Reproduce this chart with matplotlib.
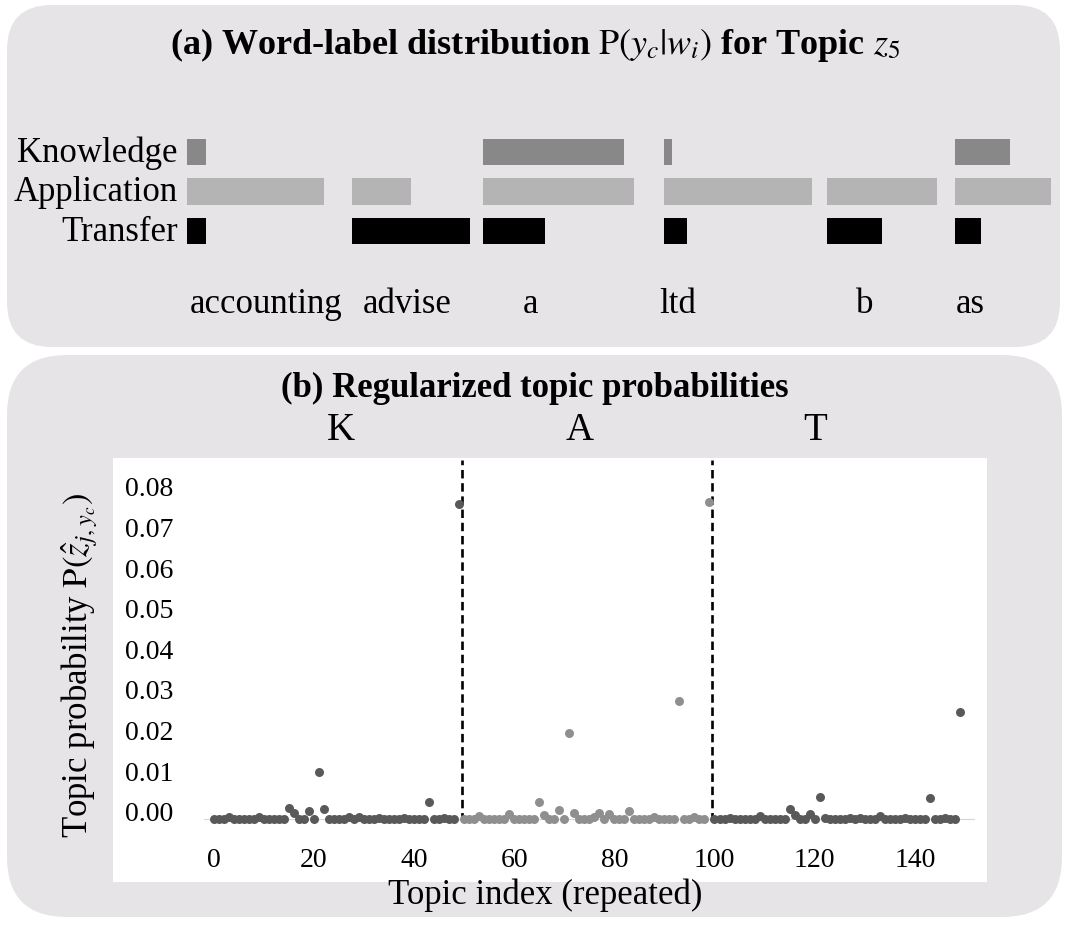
import numpy as np
import matplotlib.pyplot as plt
from matplotlib.patches import FancyBboxPatch, Rectangle
from matplotlib.transforms import ScaledTranslation, blended_transform_factory

plt.rcParams['font.family'] = ['Liberation Serif', 'DejaVu Serif']
plt.rcParams['mathtext.fontset'] = 'stix'

# ---- panel (a): word-label distribution P(y_c | w_i) for topic z5 ----
words = ['accounting', 'advise', 'a', 'ltd', 'b', 'as']
labels = ['Knowledge', 'Application', 'Transfer']
p_knowledge = [0.108, 0.0, 0.801, 0.044, 0.0, 0.3125]
p_application = [0.782, 0.335, 0.858, 0.839, 0.627, 0.544]
p_transfer = [0.108, 0.672, 0.351, 0.129, 0.316, 0.148]

# ---- panel (b): regularized topic probabilities, 50 topics per label ----
prob_k = [0, 0, 0, 0.0005, 0, 0, 0, 0, 0, 0.0005,
          0, 0, 0, 0, 0, 0.0028, 0.0016, 0.0002, 0, 0.0020,
          0, 0.0117, 0.0026, 0, 0, 0, 0, 0.0005, 0, 0.0005,
          0, 0, 0, 0.0004, 0, 0, 0, 0, 0.0004, 0,
          0, 0, 0, 0.0043, 0, 0, 0.0004, 0, 0, 0.0777]
prob_a = [0, 0, 0, 0.0008, 0, 0, 0, 0, 0, 0.0012,
          0, 0, 0, 0, 0, 0.0042, 0.0010, 0.0002, 0, 0.0023,
          0.0002, 0.0213, 0.0016, 0, 0, 0, 0.0006, 0.0015, 0, 0.0012,
          0, 0, 0, 0.0020, 0, 0, 0, 0, 0.0006, 0,
          0, 0, 0, 0.0292, 0, 0, 0.0005, 0, 0, 0.0781]
prob_t = [0, 0, 0, 0.0003, 0, 0, 0, 0, 0, 0.0008,
          0, 0, 0, 0, 0, 0.0025, 0.0011, 0.0002, 0, 0.0012,
          0, 0.0056, 0.0003, 0, 0, 0, 0, 0.0003, 0, 0.0003,
          0, 0, 0, 0.0008, 0, 0, 0, 0, 0.0003, 0,
          0, 0, 0, 0.0053, 0, 0, 0.0003, 0, 0, 0.0265]
groups = ['K', 'A', 'T']

W, H = 1065, 925
PANEL = '#e6e4e6'


def fx(px):
    return px / W


def fy(py):
    return 1 - py / H


fig = plt.figure(figsize=(W / 100, H / 100), dpi=100)
fig.patch.set_facecolor('white')

# rounded grey backgrounds for the two panels
for x0, y0, x1, y1, r in [(7, 5, 1060, 347, 0.45), (7, 355, 1062, 917, 0.6)]:
    box = FancyBboxPatch((x0 / 100, (H - y1) / 100), (x1 - x0) / 100, (y1 - y0) / 100,
                         boxstyle=f"round,pad=0,rounding_size={r}",
                         transform=fig.dpi_scale_trans, fc=PANEL, ec='none', zorder=-2)
    fig.add_artist(box)
fig.add_artist(Rectangle((fx(113), fy(882)), (987 - 113) / W, (882 - 458) / H,
                         transform=fig.transFigure, fc='white', ec='none', zorder=-1))

# ---------------- panel (a) ----------------
fig.text(fx(535), fy(45), r'(a) Word-label distribution $\mathrm{P}(y_c|w_i)$ for Topic $z_5$',
         ha='center', va='center', fontsize=26, fontweight='bold')

unit = 176.0  # pixels per unit probability
ax_a = fig.add_axes([fx(186.7), fy(250.75), (W - 186.7) / W, 118.5 / H])
ax_a.set_xlim(0, (W - 186.7) / unit)
ax_a.set_ylim(-0.5, 2.5)
ax_a.axis('off')
ax_a.patch.set_alpha(0)

word_left = [0, 0.9375, 1.6852, 2.7119, 3.6364, 4.3653]
bar_colors = ['#888888', '#b4b4b4', '#000000']
rows = [2, 1, 0]
for vals, row, col in zip([p_knowledge, p_application, p_transfer], rows, bar_colors):
    for left, v in zip(word_left, vals):
        if v > 0:
            ax_a.barh(row, v, left=left, height=0.67, color=col, linewidth=0)
for name, row in zip(labels, rows):
    ax_a.text(-0.05, row - 0.253, name, ha='right', va='baseline', fontsize=25, clip_on=False)

word_cx = [266, 407.5, 530, 678, 865, 970]
for w, cx in zip(words, word_cx):
    fig.text(fx(cx), fy(313), w, ha='center', va='baseline', fontsize=25)

# ---------------- panel (b) ----------------
fig.text(fx(535), fy(388), '(b) Regularized topic probabilities',
         ha='center', va='center', fontsize=25, fontweight='bold')

ax_b = fig.add_axes([fx(203.5), fy(831.5), (975 - 203.5) / W, (831.5 - 460) / H])
ax_b.set_facecolor('none')
for s in ax_b.spines.values():
    s.set_visible(False)
ax_b.set_xlim(-2, 152)
ax_b.set_ylim(-0.003, 0.0885)

idx = np.arange(150)
ax_b.axhline(0, color='#d6d6d6', lw=0.8, zorder=1)
ax_b.scatter(idx[:50], prob_k, s=42, color='#595959', lw=0, zorder=3)
ax_b.scatter(idx[50:100], prob_a, s=42, color='#8f8f8f', lw=0, zorder=3)
ax_b.scatter(idx[100:], prob_t, s=42, color='#595959', lw=0, zorder=3)
ax_b.vlines([49.5, 99.5], -0.0005, 0.0885, colors='black',
            linestyles=(0, (3.2, 1.8)), lw=1.9, zorder=2, clip_on=False)

ax_b.set_xticks(range(0, 141, 20))
ax_b.set_yticks(np.arange(0, 0.081, 0.01))
ax_b.set_yticklabels([f'{v:.2f}' for v in np.arange(0, 0.081, 0.01)])
ax_b.tick_params(axis='both', length=0, labelsize=20)
ax_b.tick_params(axis='x', pad=12)
ax_b.tick_params(axis='y', pad=22)
for lab in ax_b.get_yticklabels():
    lab.set_transform(lab.get_transform() + ScaledTranslation(0, 0.077, fig.dpi_scale_trans))

kat = blended_transform_factory(ax_b.transData, fig.transFigure)
for g, gx in zip(groups, [25.5, 73, 120]):
    ax_b.text(gx, fy(430), g, transform=kat, ha='center', va='center', fontsize=28)

fig.text(fx(80), fy(665), r'Topic probability $\mathrm{P}(\hat{z}_{j,y_c})$',
         rotation=90, ha='center', va='center', fontsize=25)
fig.text(fx(545), fy(895), 'Topic index (repeated)', ha='center', va='center', fontsize=25)

fig.savefig('out.png', dpi=100)
